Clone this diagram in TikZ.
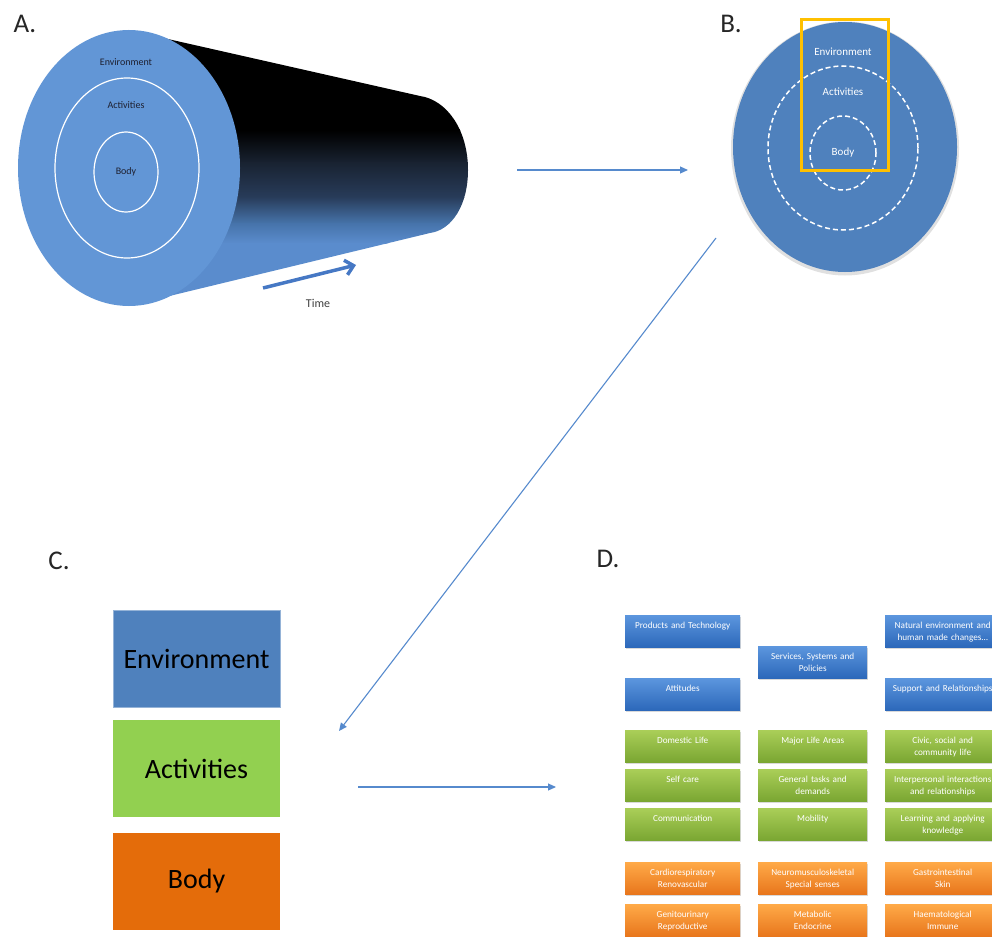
\documentclass[tikz,border=0pt]{standalone}
\usepackage{fontspec}
\setmainfont{Carlito}
\usetikzlibrary{arrows.meta,shadows}

\definecolor{faceblue}{RGB}{98,150,214}
\definecolor{cylLight}{RGB}{90,140,205}
\definecolor{cylBlue}{RGB}{70,115,170}
\definecolor{cylMid}{RGB}{40,60,90}
\definecolor{cylDark}{RGB}{25,35,50}
\definecolor{discblue}{RGB}{79,129,189}
\definecolor{linkblue}{RGB}{86,138,205}
\definecolor{timeblue}{RGB}{70,120,196}
\definecolor{frameyellow}{RGB}{255,192,0}
\definecolor{envblue}{RGB}{79,129,189}
\definecolor{actgreen}{RGB}{146,208,80}
\definecolor{bodyorange}{RGB}{228,108,10}
\definecolor{tileBlueTop}{RGB}{92,150,222}
\definecolor{tileBlueBot}{RGB}{44,104,186}
\definecolor{tileGreenTop}{RGB}{170,206,88}
\definecolor{tileGreenBot}{RGB}{122,166,50}
\definecolor{tileOrangeTop}{RGB}{255,170,72}
\definecolor{tileOrangeBot}{RGB}{232,118,28}

\tikzset{
  panellabel/.style={font=\fontsize{27}{30}\selectfont, text=black!85},
  facetext/.style={font=\fontsize{10}{12}\selectfont, text={rgb,255:red,30;green,32;blue,48}},
  disctext/.style={font=\fontsize{11}{13}\selectfont, text=white},
  ring/.style={white, line width=1.2pt},
  dashring/.style={white, line width=1.5pt, dash pattern=on 5pt off 3pt},
  link/.style={linkblue, line width=1.1pt, -{Triangle[length=8pt, width=7pt]}},
  cbox/.style={rectangle, minimum width=167pt, minimum height=97pt,
    font=\fontsize{28}{32}\selectfont, text=black},
  tile/.style={rectangle, anchor=north west, minimum height=32pt,
    text height=10pt, text depth=16pt, inner ysep=3pt, inner xsep=3pt,
    align=center, font=\fontsize{9.2}{12}\selectfont, text=white,
    drop shadow={shadow xshift=1pt, shadow yshift=-1.5pt, opacity=0.3}},
  wide/.style={minimum width=115pt, text width=109pt},
  narrow/.style={minimum width=109pt, text width=103pt},
  envtile/.style={tile, top color=tileBlueTop, bottom color=tileBlueBot},
  acttile/.style={tile, top color=tileGreenTop, bottom color=tileGreenBot},
  bodytile/.style={tile, top color=tileOrangeTop, bottom color=tileOrangeBot},
}

\begin{document}
\begin{tikzpicture}[x=1pt, y=-1pt]
\useasboundingbox (0,0) rectangle (992,936);
\clip (0,0) rectangle (992,936);

% ---------------- A: the layers extended through time
\node[panellabel] (labA) at (25,24) {A.};
% body of the tapering cylinder: black on top, fading to blue underneath
\begin{scope}
  \clip (128,30) -- (420,96)
    .. controls (447,100) and (468,130) .. (468,170)
    .. controls (468,205) and (452,230) .. (430,233)
    -- (128,306) -- cycle;
  \fill[black] (100,20) rectangle (480,131);
  \shade[top color=black, bottom color=cylDark] (100,130) rectangle (480,163.5);
  \shade[top color=cylDark, bottom color=cylMid] (100,163) rectangle (480,197.5);
  \shade[top color=cylMid, bottom color=cylBlue] (100,197) rectangle (480,223.5);
  \shade[top color=cylBlue, bottom color=cylLight] (100,223) rectangle (480,243.5);
  \fill[cylLight] (100,243) rectangle (480,320);
\end{scope}
\fill[faceblue] (129,168) ellipse [x radius=111pt, y radius=138pt];
\draw[ring] (127,168) ellipse [x radius=72pt, y radius=90pt];
\draw[ring] (126,172) ellipse [x radius=32pt, y radius=40pt];
\node[facetext] (aenv) at (126,62) {Environment};
\node[facetext] (aact) at (126,105) {Activities};
\node[facetext] (abody) at (126,172) {Body};
\coordinate (time0) at (263,288);
\coordinate (time1) at (356,265);
\draw[timeblue, line width=3.5pt, -{Straight Barb[length=8pt, width=15pt]}] (time0) -- (time1);
\node[font=\fontsize{12}{14}\selectfont, text=black!75] (timelabel) at (318,303) {Time};

% ---------------- B: one moment in time
\node[panellabel] (labB) at (731,24) {B.};
\fill[black!12] (845,148.5) ellipse [x radius=114pt, y radius=127pt];
\fill[discblue] (845,147) ellipse [x radius=112pt, y radius=125pt];
\draw[dashring] (843,148) ellipse [x radius=75pt, y radius=82pt];
\draw[dashring] (843,153) ellipse [x radius=33pt, y radius=37pt];
\node[disctext] (benv) at (843,52) {Environment};
\node[disctext] (bact) at (843,92) {Activities};
\node[disctext] (bbody) at (843,153) {Body};
\draw[frameyellow, line width=3pt] (801,20) rectangle (888,171);

% ---------------- arrows between the panels
\coordinate (ab0) at (517,170);
\coordinate (ab1) at (688,170);
\draw[link] (ab0) -- (ab1);
\coordinate (bc0) at (716,238);
\coordinate (bc1) at (339,731);
\draw[link] (bc0) -- (bc1);
\coordinate (cd0) at (358,787);
\coordinate (cd1) at (556,787);
\draw[link] (cd0) -- (cd1);

% ---------------- C: the three layers
\node[panellabel] (labC) at (59,561) {C.};
\node[cbox, fill=envblue, draw=envblue!60!white, line width=0.8pt] (cenv) at (196.5,658.5) {Environment};
\node[cbox, fill=actgreen] (cact) at (196.5,768.5) {Activities};
\node[cbox, fill=bodyorange] (cbody) at (196.5,881) {Body};

% ---------------- D: the layers broken into domains
\node[panellabel] (labD) at (608,559) {D.};

% environment
\node[envtile, wide]   (dprod) at (625,615) {Products and Technology};
\node[envtile, wide]   (dnat)  at (885,615) {Natural environment and\\human made changes…};
\node[envtile, narrow] (dserv) at (758,646) {Services, Systems and\\Policies};
\node[envtile, wide]   (datt)  at (625,678) {Attitudes};
\node[envtile, wide]   (dsupp) at (885,678) {Support and Relationships};

% activities
\node[acttile, wide]   (ddom)  at (625,730) {Domestic Life};
\node[acttile, narrow] (dmaj)  at (758,730) {Major Life Areas};
\node[acttile, wide]   (dciv)  at (885,730) {Civic, social and\\community life};
\node[acttile, wide]   (dself) at (625,769) {Self care};
\node[acttile, narrow] (dgen)  at (758,769) {General tasks and\\demands};
\node[acttile, wide]   (dint)  at (885,769) {Interpersonal interactions\\and relationships};
\node[acttile, wide]   (dcom)  at (625,808) {Communication};
\node[acttile, narrow] (dmob)  at (758,808) {Mobility};
\node[acttile, wide]   (dlearn) at (885,808) {Learning and applying\\knowledge};

% body
\node[bodytile, wide]   (dcard) at (625,862) {Cardiorespiratory\\Renovascular};
\node[bodytile, narrow] (dneur) at (758,862) {Neuromusculoskeletal\\Special senses};
\node[bodytile, wide]   (dgast) at (885,862) {Gastrointestinal\\Skin};
\node[bodytile, wide]   (dgeni) at (625,904) {Genitourinary\\Reproductive};
\node[bodytile, narrow] (dmeta) at (758,904) {Metabolic\\Endocrine};
\node[bodytile, wide]   (dhaem) at (885,904) {Haematological\\Immune};
\end{tikzpicture}
\end{document}
